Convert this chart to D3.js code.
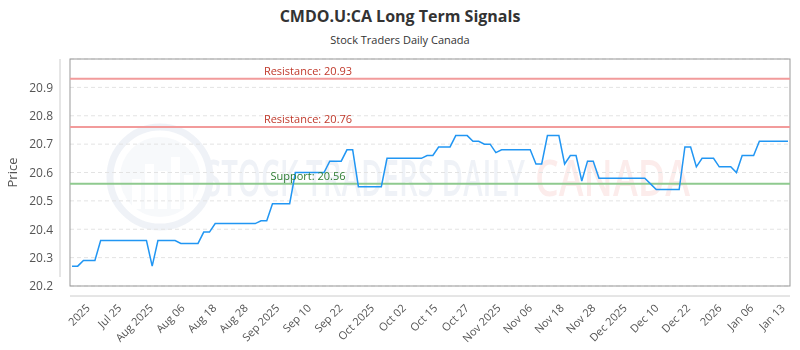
<!DOCTYPE html>
<html>
<head>
<meta charset="utf-8">
<script src="https://cdn.jsdelivr.net/npm/d3@7"></script>
<style>
  body { margin: 0; background: #fff; }
  svg { display: block; font-family: "Open Sans", sans-serif; }
</style>
</head>
<body>
<svg id="chart" width="800" height="350"></svg>
<script>
// Price per session
const prices = [
    20.27, 20.27, 20.29, 20.29, 20.29, 20.36, 20.36, 20.36, 20.36, 20.36,
    20.36, 20.36, 20.36, 20.36, 20.27, 20.36, 20.36, 20.36, 20.36, 20.35,
    20.35, 20.35, 20.35, 20.39, 20.39, 20.42, 20.42, 20.42, 20.42, 20.42,
    20.42, 20.42, 20.42, 20.43, 20.43, 20.49, 20.49, 20.49, 20.49, 20.60,
    20.60, 20.60, 20.60, 20.60, 20.60, 20.64, 20.64, 20.64, 20.68, 20.68,
    20.55, 20.55, 20.55, 20.55, 20.55, 20.65, 20.65, 20.65, 20.65, 20.65,
    20.65, 20.65, 20.66, 20.66, 20.69, 20.69, 20.69, 20.73, 20.73, 20.73,
    20.71, 20.71, 20.70, 20.70, 20.67, 20.68, 20.68, 20.68, 20.68, 20.68,
    20.68, 20.63, 20.63, 20.73, 20.73, 20.73, 20.63, 20.66, 20.66, 20.57,
    20.64, 20.64, 20.58, 20.58, 20.58, 20.58, 20.58, 20.58, 20.58, 20.58,
    20.58, 20.56, 20.54, 20.54, 20.54, 20.54, 20.54, 20.69, 20.69, 20.62,
    20.65, 20.65, 20.65, 20.62, 20.62, 20.62, 20.60, 20.66, 20.66, 20.66,
    20.71, 20.71, 20.71, 20.71, 20.71, 20.71
];

// x-axis tick labels (evenly spaced on the ordinal axis)
const xTickLabels = [
    '2025', 'Jul 25', 'Aug 2025', 'Aug 06', 'Aug 18', 'Aug 28', 'Sep 2025',
    'Sep 10', 'Sep 22', 'Oct 2025', 'Oct 02', 'Oct 15', 'Oct 27', 'Nov 2025',
    'Nov 06', 'Nov 18', 'Nov 28', 'Dec 2025', 'Dec 10', 'Dec 22', '2026',
    'Jan 06', 'Jan 13'
];

const yTicks = [20.2, 20.3, 20.4, 20.5, 20.6, 20.7, 20.8, 20.9];
const resistanceLevels = [20.93, 20.76];
const supportLevels = [20.56];

const svg = d3.select('#chart');

// Plot area
const margin = { top: 59, right: 10, bottom: 64, left: 70 };
const width = 800 - margin.left - margin.right;
const height = 350 - margin.top - margin.bottom;

// Titles
svg.append('text')
  .attr('x', 400)
  .attr('y', 22)
  .attr('text-anchor', 'middle')
  .attr('fill', '#333')
  .style('font-size', '16px')
  .style('font-weight', 'bold')
  .text('CMDO.U:CA Long Term Signals');

svg.append('text')
  .attr('x', 400)
  .attr('y', 44)
  .attr('text-anchor', 'middle')
  .attr('fill', '#333')
  .style('font-size', '11px')
  .text('Stock Traders Daily Canada');

const chart = svg.append('g')
  .attr('transform', `translate(${margin.left},${margin.top})`);

// Scales
const xScale = d3.scaleLinear().domain([0, prices.length - 1]).range([2, width - 2]);
const yScale = d3.scaleLinear().domain([20.2, 21.0]).range([height, 0]);
const tickScale = d3.scalePoint().domain(xTickLabels).range([18, width - 7]);

// Faint watermark behind the data
const mark = chart.append('g').attr('opacity', 0.09);
mark.append('circle')
  .attr('cx', 90).attr('cy', 118).attr('r', 50)
  .attr('fill', 'none').attr('stroke', '#4a6fa5').attr('stroke-width', 7);
mark.append('circle')
  .attr('cx', 90).attr('cy', 118).attr('r', 40)
  .attr('fill', '#4a6fa5').attr('opacity', 0.5);
[[62, 30], [75, 45], [88, 38], [101, 52], [114, 34]].forEach(([bx, bh]) => {
    mark.append('rect')
      .attr('x', bx).attr('y', 150 - bh).attr('width', 9).attr('height', bh)
      .attr('fill', '#fff');
});
mark.append('text')
  .attr('x', 135).attr('y', 137)
  .attr('fill', '#4a6fa5')
  .attr('textLength', 320)
  .attr('lengthAdjust', 'spacingAndGlyphs')
  .style('font-size', '50px')
  .style('font-weight', '600')
  .text('STOCK TRADERS DAILY');
chart.append('text')
  .attr('x', 465).attr('y', 137)
  .attr('fill', '#e0483e')
  .attr('opacity', 0.1)
  .attr('textLength', 155)
  .attr('lengthAdjust', 'spacingAndGlyphs')
  .style('font-size', '50px')
  .style('font-weight', '600')
  .text('CANADA');

// Horizontal dashed grid
chart.append('g')
  .selectAll('line')
  .data(yTicks.concat([21.0]))
  .join('line')
  .attr('x1', 0)
  .attr('x2', width)
  .attr('y1', (d) => yScale(d))
  .attr('y2', (d) => yScale(d))
  .attr('stroke', '#e3e3e3')
  .attr('stroke-dasharray', '4,3');

// Plot border
chart.append('rect')
  .attr('width', width)
  .attr('height', height)
  .attr('fill', 'none')
  .attr('stroke', '#999');

// Y axis (offset to the left of the plot)
const yAxis = d3.axisLeft(yScale).tickValues(yTicks).tickSize(0).tickPadding(7)
  .tickFormat(d3.format('.1f'));
const yAxisG = chart.append('g')
  .attr('transform', 'translate(-10,0)')
  .call(yAxis);
yAxisG.select('.domain').attr('stroke', '#ccc').attr('d', `M0,0V${height - 9}`);
yAxisG.selectAll('.tick text')
  .attr('fill', '#555')
  .style('font-size', '12px')
  .style('font-family', '"Open Sans", sans-serif');

chart.append('text')
  .attr('transform', `translate(-53,${height / 2}) rotate(-90)`)
  .attr('text-anchor', 'middle')
  .attr('fill', '#555')
  .style('font-size', '13px')
  .text('Price');

// X axis (offset below the plot)
const xAxisG = chart.append('g')
  .attr('transform', `translate(0,${height + 10})`);
xAxisG.append('line')
  .attr('x1', 0).attr('x2', width)
  .attr('stroke', '#ccc');
xAxisG.selectAll('text')
  .data(xTickLabels)
  .join('text')
  .attr('transform', (d) => `translate(${tickScale(d)},10) rotate(-45)`)
  .attr('text-anchor', 'end')
  .attr('dy', '0.35em')
  .attr('fill', '#555')
  .style('font-size', '11px')
  .text((d) => d);

// Resistance and support levels
const levels = resistanceLevels.map((v) => ({ v, kind: 'Resistance', line: '#f29b9b', txt: '#c0392b' }))
  .concat(supportLevels.map((v) => ({ v, kind: 'Support', line: '#8fca8f', txt: '#2e7d32' })));

chart.selectAll('.level')
  .data(levels)
  .join('line')
  .attr('class', 'level')
  .attr('x1', 0)
  .attr('x2', width)
  .attr('y1', (d) => yScale(d.v))
  .attr('y2', (d) => yScale(d.v))
  .attr('stroke', (d) => d.line)
  .attr('stroke-width', 2);

// Price line
const line = d3.line()
  .x((d, i) => xScale(i))
  .y((d) => yScale(d));

chart.append('path')
  .datum(prices)
  .attr('fill', 'none')
  .attr('stroke', '#2196f3')
  .attr('stroke-width', 1.5)
  .attr('d', line);

chart.selectAll('.level-label')
  .data(levels)
  .join('text')
  .attr('class', 'level-label')
  .attr('x', 238)
  .attr('y', (d) => yScale(d.v) - 4)
  .attr('text-anchor', 'middle')
  .attr('fill', (d) => d.txt)
  .style('font-size', '11px')
  .text((d) => `${d.kind}: ${d.v.toFixed(2)}`);
</script>
</body>
</html>
